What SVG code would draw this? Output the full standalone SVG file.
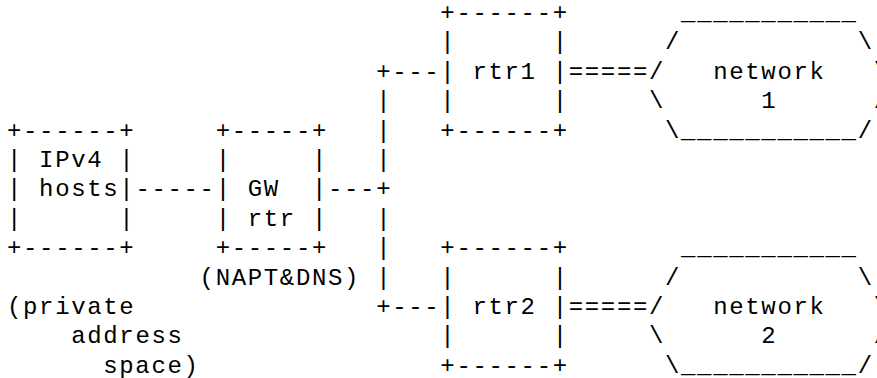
<svg xmlns="http://www.w3.org/2000/svg" width="877" height="378" viewBox="0 0 877 378">
<style>
text{font-family:"Liberation Mono","Courier New",monospace;font-size:24px;letter-spacing:1.65px;fill:#000;white-space:pre}
</style>
<rect width="877" height="378" fill="#fff"/>
<g id="connectors">
<text x="135.38" y="196.3">-----</text>
<text x="327.98" y="196.3">---+</text>
<text x="376.13" y="78.7">+---</text>
<text x="376.13" y="108.1">|</text>
<text x="376.13" y="137.5">|</text>
<text x="376.13" y="166.9">|</text>
<text x="376.13" y="225.7">|</text>
<text x="376.13" y="255.1">|</text>
<text x="376.13" y="284.5">|</text>
<text x="376.13" y="313.9">+---</text>
<text x="568.73" y="78.7">=====</text>
<text x="568.73" y="313.9">=====</text>
</g>
<g id="ipv4-hosts">
<text x="6.98" y="137.5">+------+</text>
<text x="6.98" y="166.9">|</text><text x="39.08" y="166.9">IPv4</text><text x="119.33" y="166.9">|</text>
<text x="6.98" y="196.3">|</text><text x="39.08" y="196.3">hosts</text><text x="119.33" y="196.3">|</text>
<text x="6.98" y="225.7">|</text><text x="119.33" y="225.7">|</text>
<text x="6.98" y="255.1">+------+</text>
</g>
<g id="private-address-space">
<text x="6.98" y="313.9">(private</text>
<text x="71.18" y="343.3">address</text>
<text x="103.28" y="372.7">space)</text>
</g>
<g id="gw-rtr">
<text x="215.63" y="137.5">+-----+</text>
<text x="215.63" y="166.9">|</text><text x="311.93" y="166.9">|</text>
<text x="215.63" y="196.3">|</text><text x="247.73" y="196.3">GW</text><text x="311.93" y="196.3">|</text>
<text x="215.63" y="225.7">|</text><text x="247.73" y="225.7">rtr</text><text x="311.93" y="225.7">|</text>
<text x="215.63" y="255.1">+-----+</text>
<text x="199.58" y="284.5">(NAPT&amp;DNS)</text>
</g>
<g id="rtr1">
<text x="440.33" y="19.9">+------+</text>
<text x="440.33" y="49.3">|</text><text x="552.68" y="49.3">|</text>
<text x="440.33" y="78.7">|</text><text x="472.43" y="78.7">rtr1</text><text x="552.68" y="78.7">|</text>
<text x="440.33" y="108.1">|</text><text x="552.68" y="108.1">|</text>
<text x="440.33" y="137.5">+------+</text>
</g>
<g id="rtr2">
<text x="440.33" y="255.1">+------+</text>
<text x="440.33" y="284.5">|</text><text x="552.68" y="284.5">|</text>
<text x="440.33" y="313.9">|</text><text x="472.43" y="313.9">rtr2</text><text x="552.68" y="313.9">|</text>
<text x="440.33" y="343.3">|</text><text x="552.68" y="343.3">|</text>
<text x="440.33" y="372.7">+------+</text>
</g>
<g id="network1">
<text x="681.08" y="19.9">___________</text>
<text x="665.03" y="49.3">/</text><text x="857.63" y="49.3">\</text>
<text x="648.98" y="78.7">/</text><text x="713.18" y="78.7">network</text><text x="873.68" y="78.7">\</text>
<text x="648.98" y="108.1">\</text><text x="761.33" y="108.1">1</text><text x="873.68" y="108.1">/</text>
<text x="665.03" y="137.5">\___________/</text>
</g>
<g id="network2">
<text x="681.08" y="255.1">___________</text>
<text x="665.03" y="284.5">/</text><text x="857.63" y="284.5">\</text>
<text x="648.98" y="313.9">/</text><text x="713.18" y="313.9">network</text><text x="873.68" y="313.9">\</text>
<text x="648.98" y="343.3">\</text><text x="761.33" y="343.3">2</text><text x="873.68" y="343.3">/</text>
<text x="665.03" y="372.7">\___________/</text>
</g>
</svg>
